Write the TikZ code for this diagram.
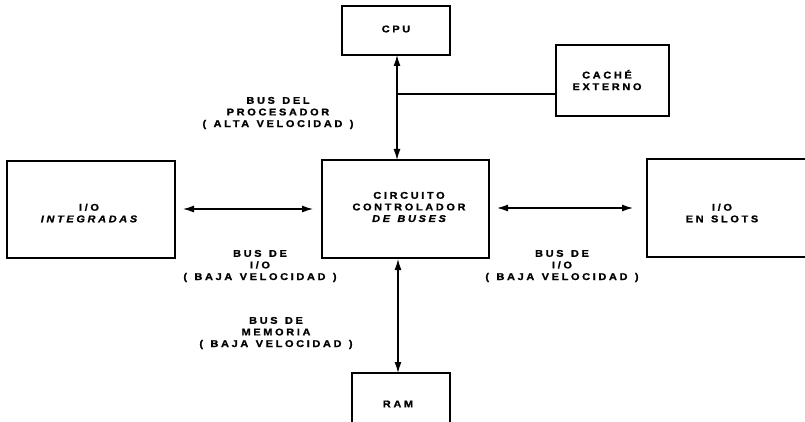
\documentclass[tikz,border=0pt]{standalone}
\usepackage{fontspec}
\setmainfont{Liberation Sans}[LetterSpace=27,FakeStretch=1.12,WordSpace=1.3,
  BoldFeatures={FakeBold=1.2},BoldItalicFeatures={FakeBold=1.2}]
\usetikzlibrary{arrows.meta}
\begin{document}
\begin{tikzpicture}[x=1pt,y=-1pt,
  box/.style={draw,line width=1.2pt},
  lbl/.style={font=\fontsize{9.8}{11.6}\selectfont\bfseries,align=center,inner sep=0pt},
  bus/.style={line width=1.3pt,{Latex[length=11pt,width=7pt]}-{Latex[length=11pt,width=7pt]}},
  plain/.style={line width=1.1pt}]
\useasboundingbox (0,0) rectangle (805,422);
% boxes
\draw[box] (342,6) rectangle (450,55); \coordinate (cpuS) at (397,55);
\node[lbl] (cpu) at (396,29) {CPU};
\draw[box] (556,45) rectangle (669,116); \coordinate (cacheW) at (556,94);
\node[lbl] (cache) at (607,80) {CACHÉ\\EXTERNO};
\draw[box] (322,160) rectangle (489,258);
\node[lbl] (ctrl) at (409,207) {CIRCUITO\\CONTROLADOR\\\itshape DE BUSES};
\draw[box] (7,161) rectangle (175,258);
\node[lbl] (ioi) at (89,213) {I/O\\\itshape INTEGRADAS};
\draw[box] (647,159) rectangle (815,257);
\node[lbl] (ios) at (722,213) {I/O\\EN SLOTS};
\draw[box] (352,373) rectangle (450,432);
\node[lbl] (ram) at (398,404) {RAM};
% connector endpoints
\coordinate (ctrlN) at (397,160);
\coordinate (ctrlS) at (398,259);
\coordinate (ramN) at (398,373);
\coordinate (ioiE) at (183,209);
\coordinate (ctrlW) at (313,209);
\coordinate (ctrlE) at (497,208);
\coordinate (iosW) at (633,208);
\coordinate (cpuJ) at (397,94);
% connectors
\draw[bus] (cpuS) -- (ctrlN);
\draw[plain] (cacheW) -- (cpuJ);
\draw[bus] (ioiE) -- (ctrlW);
\draw[bus] (ctrlE) -- (iosW);
\draw[bus] (ctrlS) -- (ramN);
% labels
\node[lbl] (lproc) at (278,113) {BUS DEL\\PROCESADOR\\( ALTA VELOCIDAD )};
\node[lbl] (lioi) at (260,266) {BUS DE\\I/O\\( BAJA VELOCIDAD )};
\node[lbl] (lios) at (562,266) {BUS DE\\I/O\\( BAJA VELOCIDAD )};
\node[lbl] (lmem) at (276,333) {BUS DE\\MEMORIA\\( BAJA VELOCIDAD )};
\end{tikzpicture}
\end{document}
